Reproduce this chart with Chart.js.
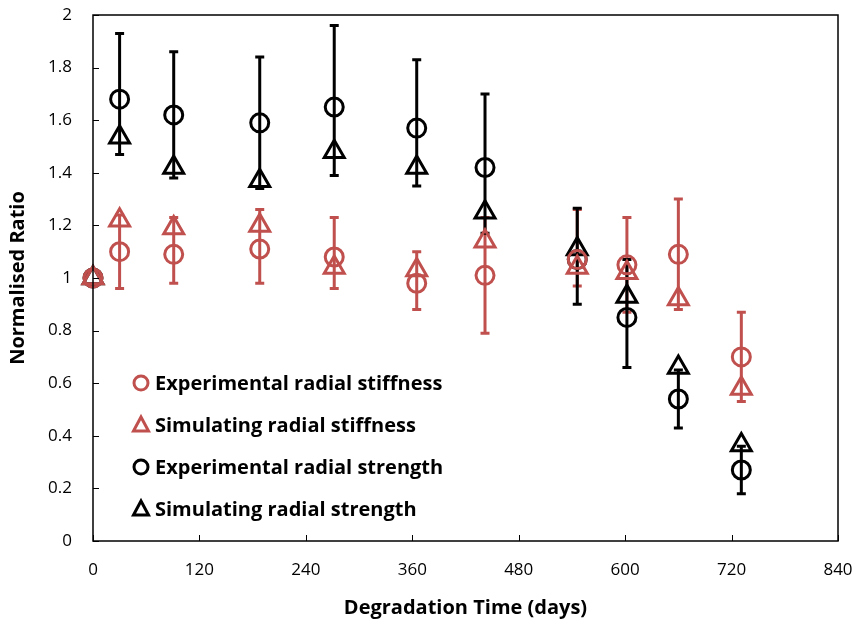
<!DOCTYPE html>
<html>
<head>
<meta charset="utf-8">
<script src="https://cdn.jsdelivr.net/npm/chart.js@4.4.1/dist/chart.umd.min.js"></script>
<style>
  html, body { margin: 0; padding: 0; background: #fff; }
  #wrap { width: 858px; height: 628px; }
</style>
</head>
<body>
<div id="wrap"><canvas id="myChart" width="858" height="628"></canvas></div>
<script>
const RED = "#C0504D";
const BLACK = "#000000";
const FONT = "'Open Sans', sans-serif";

// degradation time (days)
const days = [0, 30, 91, 188, 272, 365, 442, 546, 602, 660, 731];

const expStiffness = [1.0, 1.10, 1.09, 1.11, 1.08, 0.98, 1.01, 1.07, 1.05, 1.09, 0.70];
const expStiffnessLow = [1.0, 0.96, 0.98, 0.98, 0.96, 0.88, 0.79, 0.97, 0.87, 0.88, 0.53];
const expStiffnessHigh = [1.0, 1.24, 1.23, 1.26, 1.23, 1.10, 1.23, 1.26, 1.23, 1.30, 0.87];

const simStiffness = [1.0, 1.22, 1.19, 1.20, 1.04, 1.03, 1.14, 1.04, 1.02, 0.92, 0.58];

const expStrength = [1.0, 1.68, 1.62, 1.59, 1.65, 1.57, 1.42, 1.07, 0.85, 0.54, 0.27];
const expStrengthLow = [1.0, 1.47, 1.38, 1.34, 1.39, 1.35, 1.17, 0.90, 0.66, 0.43, 0.18];
const expStrengthHigh = [1.0, 1.93, 1.86, 1.84, 1.96, 1.83, 1.70, 1.265, 1.07, 0.65, 0.36];

const simStrength = [1.0, 1.535, 1.42, 1.37, 1.48, 1.42, 1.25, 1.11, 0.93, 0.66, 0.365];

const xTicks = [0, 120, 240, 360, 480, 600, 720, 840];
const yTicks = [0, 0.2, 0.4, 0.6, 0.8, 1, 1.2, 1.4, 1.6, 1.8, 2];

const toPoints = (vals, lo, hi) =>
  days.map((d, i) => ({ x: d, y: vals[i], lo: lo ? lo[i] : null, hi: hi ? hi[i] : null }));

const data = {
  datasets: [
    {
      label: "Experimental radial stiffness",
      data: toPoints(expStiffness, expStiffnessLow, expStiffnessHigh),
      borderColor: RED,
      pointStyle: "circle",
      pointRadius: 9,
    },
    {
      label: "Simulating radial stiffness",
      data: toPoints(simStiffness),
      borderColor: RED,
      pointStyle: "triangle",
      pointRadius: 11.5,
    },
    {
      label: "Experimental radial strength",
      data: toPoints(expStrength, expStrengthLow, expStrengthHigh),
      borderColor: BLACK,
      pointStyle: "circle",
      pointRadius: 9,
    },
    {
      label: "Simulating radial strength",
      data: toPoints(simStrength),
      borderColor: BLACK,
      pointStyle: "triangle",
      pointRadius: 11.5,
    },
  ],
};

// error bars, frame, inside ticks and in-plot legend
const extras = {
  id: "extras",
  beforeDatasetsDraw(chart) {
    const { ctx, scales: { x, y } } = chart;
    ctx.save();
    ctx.lineWidth = 3;
    chart.data.datasets.forEach((ds) => {
      ctx.strokeStyle = ds.borderColor;
      ds.data.forEach((p) => {
        if (p.lo == null || p.hi == null || p.lo === p.hi) return;
        const px = x.getPixelForValue(p.x);
        const top = y.getPixelForValue(p.hi);
        const bot = y.getPixelForValue(p.lo);
        ctx.beginPath();
        ctx.moveTo(px, top);
        ctx.lineTo(px, bot);
        ctx.moveTo(px - 4.5, top);
        ctx.lineTo(px + 4.5, top);
        ctx.moveTo(px - 4.5, bot);
        ctx.lineTo(px + 4.5, bot);
        ctx.stroke();
      });
    });
    ctx.restore();
  },
  afterDraw(chart) {
    const { ctx, chartArea: a, scales: { x, y } } = chart;
    ctx.save();
    ctx.strokeStyle = "#000";
    ctx.lineWidth = 1.5;
    ctx.strokeRect(a.left, a.top, a.right - a.left, a.bottom - a.top);
    ctx.lineWidth = 1;
    xTicks.forEach((t) => {
      const px = Math.round(x.getPixelForValue(t)) + 0.5;
      ctx.beginPath();
      ctx.moveTo(px, a.bottom);
      ctx.lineTo(px, a.bottom - 6);
      ctx.stroke();
    });
    yTicks.forEach((t) => {
      const py = Math.round(y.getPixelForValue(t)) + 0.5;
      ctx.beginPath();
      ctx.moveTo(a.left, py);
      ctx.lineTo(a.left + 6, py);
      ctx.stroke();
    });

    // legend
    const lx = a.left + 48;
    let ly = a.top + 368;
    ctx.font = "bold 20px " + FONT;
    ctx.textBaseline = "middle";
    chart.data.datasets.forEach((ds) => {
      ctx.strokeStyle = ds.borderColor;
      ctx.lineWidth = 3;
      ctx.beginPath();
      if (ds.pointStyle === "circle") {
        ctx.arc(lx, ly, 7, 0, Math.PI * 2);
      } else {
        ctx.moveTo(lx, ly - 8);
        ctx.lineTo(lx + 7.5, ly + 6);
        ctx.lineTo(lx - 7.5, ly + 6);
        ctx.closePath();
      }
      ctx.stroke();
      ctx.fillStyle = "#000";
      ctx.fillText(ds.label, lx + 14, ly + 1);
      ly += 42;
    });
    ctx.restore();
  },
};

const config = {
  type: "scatter",
  data: data,
  options: {
    responsive: false,
    animation: false,
    layout: { padding: { top: 15, right: 20, left: 0, bottom: 0 } },
    elements: {
      point: { borderWidth: 3, backgroundColor: "rgba(0,0,0,0)" },
    },
    datasets: { scatter: { clip: false } },
    plugins: {
      legend: { display: false },
      tooltip: { enabled: false },
    },
    scales: {
      x: {
        type: "linear",
        min: 0,
        max: 840,
        afterBuildTicks: (scale) => {
          scale.ticks = xTicks.map((v) => ({ value: v }));
        },
        afterFit: (scale) => {
          scale.height = 87;
          scale.paddingLeft = 0;
          scale.paddingRight = 0;
        },
        border: { display: false },
        grid: { display: false, drawTicks: false },
        ticks: {
          color: "#000",
          font: { family: FONT, size: 17 },
          padding: 19,
          maxRotation: 0,
        },
        title: {
          display: true,
          text: "Degradation Time (days)",
          color: "#000",
          font: { family: FONT, size: 20, weight: "bold" },
          padding: { top: 4, bottom: 8 },
        },
      },
      y: {
        min: 0,
        max: 2,
        afterFit: (scale) => {
          scale.width = 93;
          scale.paddingTop = 0;
          scale.paddingBottom = 0;
        },
        border: { display: false },
        grid: { display: false, drawTicks: false },
        ticks: {
          stepSize: 0.2,
          color: "#000",
          font: { family: FONT, size: 17 },
          padding: 21,
          callback: (v) => String(+v.toFixed(1)),
        },
        title: {
          display: true,
          text: "Normalised Ratio",
          color: "#000",
          font: { family: FONT, size: 20, weight: "bold" },
          padding: { top: 6, bottom: 4 },
        },
      },
    },
  },
  plugins: [extras],
};

new Chart(document.getElementById("myChart"), config);
</script>
</body>
</html>
